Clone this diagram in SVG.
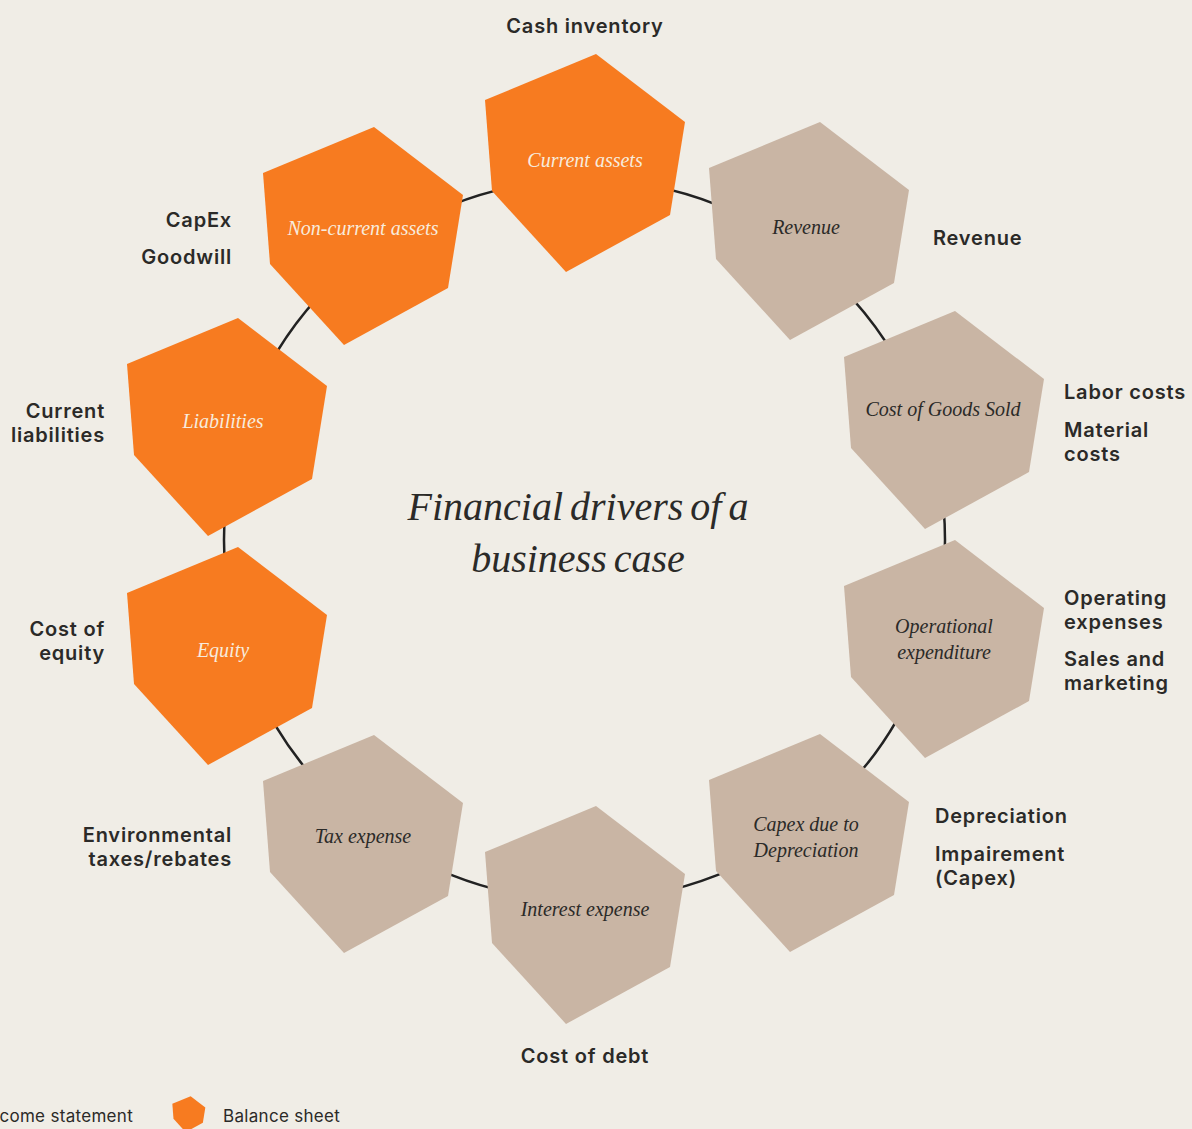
<svg xmlns="http://www.w3.org/2000/svg" xmlns:xlink="http://www.w3.org/1999/xlink" width="1192" height="1129" viewBox="0 0 1192 1129">
  <style>
    .bg { fill: #F0EDE6; }
    .bs { fill: #F77B20; }
    .is { fill: #C9B5A4; }
    .nl { font-family: "Liberation Serif", "DejaVu Serif", serif; font-style: italic; font-size: 20px; text-anchor: middle; }
    .nl-bs { fill: #F7EBDD; }
    .nl-is { fill: #2B2A28; }
    .ol { font-family: Inter, "Liberation Sans", sans-serif; font-weight: 600; font-size: 20px; letter-spacing: 0.8px; fill: #2B2A28; }
    .end { text-anchor: end; }
    .mid { text-anchor: middle; }
    .title { font-family: "Liberation Serif", "DejaVu Serif", serif; font-style: italic; font-size: 40px; fill: #2B2A28; text-anchor: middle; word-spacing: -3px; }
    .leg { font-family: Inter, "Liberation Sans", sans-serif; font-size: 17px; letter-spacing: 0.3px; fill: #2B2A28; }
    .ring { fill: none; stroke: #222222; stroke-width: 2.5; }
  </style>
  <defs>
    <polygon id="hex" points="10,-108 99,-40 84,53 -20,110 -94,29 -101,-62"/>
  </defs>
  <rect class="bg" x="0" y="0" width="1192" height="1129"/>

  <g id="connectors">
    <circle class="ring" cx="584.5" cy="540" r="360.5"/>
  </g>

  <g id="title">
    <text class="title" x="578" y="520">Financial drivers of a</text>
    <text class="title" x="578" y="572">business case</text>
  </g>

  <g id="node-current-assets">
    <use xlink:href="#hex" href="#hex" class="bs" transform="translate(586,162)"/>
    <text class="nl nl-bs" x="585" y="167">Current assets</text>
    <text class="ol mid" x="585" y="33">Cash inventory</text>
  </g>

  <g id="node-revenue">
    <use xlink:href="#hex" href="#hex" class="is" transform="translate(810,230)"/>
    <text class="nl nl-is" x="806" y="234">Revenue</text>
    <text class="ol" x="933" y="245">Revenue</text>
  </g>

  <g id="node-cogs">
    <use xlink:href="#hex" href="#hex" class="is" transform="translate(945,419)"/>
    <text class="nl nl-is" x="943" y="416">Cost of Goods Sold</text>
    <text class="ol" x="1064" y="399">Labor costs</text>
    <text class="ol" x="1064" y="437">Material</text>
    <text class="ol" x="1064" y="461">costs</text>
  </g>

  <g id="node-opex">
    <use xlink:href="#hex" href="#hex" class="is" transform="translate(945,648)"/>
    <text class="nl nl-is" x="944" y="633">Operational</text>
    <text class="nl nl-is" x="944" y="659">expenditure</text>
    <text class="ol" x="1064" y="605">Operating</text>
    <text class="ol" x="1064" y="629">expenses</text>
    <text class="ol" x="1064" y="666">Sales and</text>
    <text class="ol" x="1064" y="690">marketing</text>
  </g>

  <g id="node-capex">
    <use xlink:href="#hex" href="#hex" class="is" transform="translate(810,842)"/>
    <text class="nl nl-is" x="806" y="831">Capex due to</text>
    <text class="nl nl-is" x="806" y="857">Depreciation</text>
    <text class="ol" x="935" y="823">Depreciation</text>
    <text class="ol" x="935" y="861">Impairement</text>
    <text class="ol" x="935" y="885">(Capex)</text>
  </g>

  <g id="node-interest">
    <use xlink:href="#hex" href="#hex" class="is" transform="translate(586,914)"/>
    <text class="nl nl-is" x="585" y="916">Interest expense</text>
    <text class="ol mid" x="585" y="1063">Cost of debt</text>
  </g>

  <g id="node-tax">
    <use xlink:href="#hex" href="#hex" class="is" transform="translate(364,843)"/>
    <text class="nl nl-is" x="363" y="843">Tax expense</text>
    <text class="ol end" x="232" y="842">Environmental</text>
    <text class="ol end" x="232" y="866">taxes/rebates</text>
  </g>

  <g id="node-equity">
    <use xlink:href="#hex" href="#hex" class="bs" transform="translate(228,655)"/>
    <text class="nl nl-bs" x="223" y="657">Equity</text>
    <text class="ol end" x="105" y="636">Cost of</text>
    <text class="ol end" x="105" y="660">equity</text>
  </g>

  <g id="node-liabilities">
    <use xlink:href="#hex" href="#hex" class="bs" transform="translate(228,426)"/>
    <text class="nl nl-bs" x="223" y="428">Liabilities</text>
    <text class="ol end" x="105" y="418">Current</text>
    <text class="ol end" x="105" y="442">liabilities</text>
  </g>

  <g id="node-noncurrent-assets">
    <use xlink:href="#hex" href="#hex" class="bs" transform="translate(364,235)"/>
    <text class="nl nl-bs" x="363" y="235">Non-current assets</text>
    <text class="ol end" x="232" y="227">CapEx</text>
    <text class="ol end" x="232" y="264">Goodwill</text>
  </g>

  <g id="legend">
    <text class="leg end" x="133" y="1122">come statement</text>
    <use xlink:href="#hex" href="#hex" class="bs" transform="translate(189,1114) scale(0.165)"/>
    <text class="leg" x="223" y="1122">Balance sheet</text>
  </g>
</svg>
